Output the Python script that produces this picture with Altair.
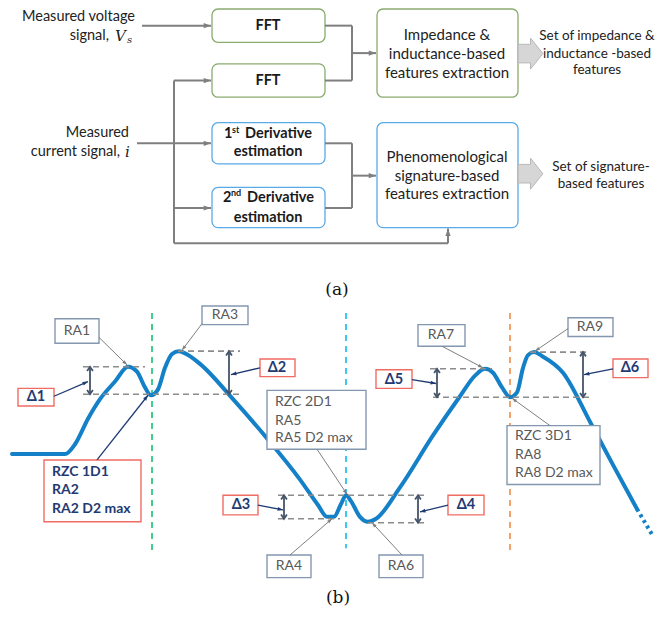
import math
import altair as alt
import pandas as pd

# ---------------- (a) flowchart data ----------------
box_x1 = [212, 212, 212, 212, 377, 377]
box_x2 = [325, 325, 325, 325, 518, 518]
box_y1 = [2, 58, 118, 184, 2, 118]
box_y2 = [36, 92, 160, 225, 92, 225]
box_group = ["fft", "fft", "deriv", "deriv", "fft", "deriv"]

seg_x1 = [174, 174, 325, 325, 352, 325, 325, 352]
seg_y1 = [75, 241, 19, 75, 19, 139, 205, 139]
seg_x2 = [174, 448, 352, 352, 352, 352, 352, 352]
seg_y2 = [241, 241, 19, 75, 75, 139, 205, 205]

arr_x1 = [142, 174, 137, 174, 352, 352, 448]
arr_y1 = [19, 75, 139, 205, 47, 172, 241]
arr_x2 = [211, 211, 211, 211, 376, 376, 448]
arr_y2 = [19, 75, 139, 205, 47, 172, 226]

big_x = [530.5, 530.5]
big_y = [47.5, 170]

in_text = ["Measured voltage", "signal,", "Measured", "current signal,"]
in_x = [135, 109, 129, 120]
in_y = [10, 30, 128, 148]
math_text = ["V", "i"]
math_x = [115, 125]
math_y = [30, 148]
sub_text = ["s"]
sub_x = [127]
sub_y = [34]

boxc_text = ["FFT", "FFT", "estimation", "estimation"]
boxc_x = [268, 268, 268, 268]
boxc_y = [19, 75, 148, 215]
boxl_text = ["1", "Derivative", "2", "Derivative"]
boxl_x = [224, 245, 223, 247]
boxl_y = [130, 130, 195, 195]
sup_text = ["st", "nd"]
sup_x = [232, 231]
sup_y = [125, 190]

ext_text = ["Impedance &", "inductance-based", "features extraction",
            "Phenomenological", "signature-based", "features extraction"]
ext_x = [447, 447, 447, 447, 447, 447]
ext_y = [29, 48, 67, 153, 172, 191]

out_text = ["Set of impedance &", "inductance -based", "features",
            "Set of signature-", "based features"]
out_x = [597, 597, 597, 601, 601]
out_y = [30, 48, 64, 163, 181]

cap_text = ["(a)", "(b)"]
cap_x = [337, 338]
cap_y = [289, 603]

# ---------------- (b) signature data ----------------
curve_x = [12, 65, 75, 88, 100, 115, 128, 137, 145, 151, 158, 165, 172, 179, 188,
           200, 233, 267, 300, 318, 327, 334, 341, 346, 351, 360, 368, 376, 400,
           433, 460, 475, 485, 493, 502, 510, 517, 523, 528, 534, 542, 563, 590,
           613, 637]
curve_y = [456, 456, 446, 420, 400, 382, 367, 372, 388, 396, 390, 368, 354, 351, 355,
           364, 400, 440, 482, 508, 520, 520, 507, 498, 504, 520, 525, 522, 490,
           437, 397, 376, 369, 373, 388, 398, 393, 368, 355, 352, 356, 373, 423,
           467, 512]
tail_x = [637, 652]
tail_y = [512, 538]

hdash_x1 = [83, 83, 178, 278, 278, 368, 430, 433, 530]
hdash_x2 = [145, 243, 240, 427, 340, 428, 492, 590, 590]
hdash_y = [367, 395, 351, 498, 522, 526, 369, 398, 352]

vdash_x = [152, 346, 510]
vdash_y1 = [312, 312, 312]
vdash_y2 = [555, 552, 555]
vdash_c = ["g", "c", "o"]

dbl_x = [90, 229, 284, 418, 437, 583]
dbl_y1 = [367, 351, 498, 498, 369, 352]
dbl_y2 = [395, 395, 522, 526, 398, 398]

lab_x1 = [55, 202, 418, 568, 267, 379, 267, 507, 44, 18, 260, 223, 448, 376, 613]
lab_x2 = [99, 248, 465, 613, 311, 423, 366, 600, 141, 54, 295, 258, 484, 412, 648]
lab_y1 = [318, 305, 324, 317, 559, 559, 391, 427, 462, 389, 359, 498, 498, 370, 359]
lab_y2 = [343, 324, 346, 336, 582, 582, 451, 487, 525, 407, 377, 518, 518, 389, 378]
lab_kind = ["grey"] * 8 + ["red"] * 7

ra_text = ["RA1", "RA3", "RA7", "RA9", "RA4", "RA6"]
ra_x = [77, 225, 441, 590, 289, 401]
ra_y = [330, 314, 335, 326, 570, 570]

multi_text = ["RZC 2D1", "RA5", "RA5 D2 max", "RZC 3D1", "RA8", "RA8 D2 max"]
multi_x = [275, 275, 275, 515, 515, 515]
multi_y = [403, 422, 440, 438, 457, 475]

bold_text = ["RZC 1D1", "RA2", "RA2 D2 max"]
bold_x = [52, 52, 52]
bold_y = [474, 493, 512]

delta_text = ["Δ1", "Δ2", "Δ3", "Δ4", "Δ5", "Δ6"]
delta_x = [36, 277, 241, 466, 394, 630]
delta_y = [398, 368, 508, 508, 380, 368]

gp_x1 = [99, 202, 442, 568, 290, 402, 317, 550]
gp_y1 = [337, 323, 346, 328, 559, 559, 451, 427]
gp_x2 = [127, 182, 483, 535, 332, 372, 347, 512]
gp_y2 = [365, 350, 368, 351, 522, 526, 497, 399]

np_x1 = [97, 54, 260, 258, 448, 412, 613]
np_y1 = [462, 397, 368, 508, 508, 380, 369]
np_x2 = [148, 88, 231, 283, 420, 436, 584]
np_y2 = [396, 382, 375, 513, 515, 384, 375]

# ---------------- styling ----------------
W, H = 656, 600
XD = [8, 664]
YD = [1, 613]
SX = W / (XD[1] - XD[0])
SY = H / (YD[1] - YD[0])
XS = alt.Scale(domain=XD, nice=False, zero=False)
YS = alt.Scale(domain=YD, nice=False, zero=False, reverse=True)
FONT = "Lato, 'Open Sans', sans-serif"
GREEN_BOX = "#8aab6e"
BLUE_BOX = "#5aaae6"
LINE_GREY = "#7f7f7f"
CURVE = "#1380c8"
DASH_GREY = "#8c8c8c"
DOUBLE = "#44546a"
LABEL_BORDER = "#8497b0"
LABEL_TEXT = "#595959"
RED = "#f26b63"
NAVY = "#1f3b73"
VCOL = {"g": "#3ecf8e", "c": "#3cc8f2", "o": "#f2a36c"}
HEAD = "M0,0 L0.5,1.4 L-0.5,1.4 Z"
CHEVRON = "M-0.75,1.1 L0,0 L0.75,1.1"
BIG = "M-0.8,-0.6 L0,-0.6 L0,-1 L0.8,0 L0,1 L0,0.6 L-0.8,0.6 Z"


def ex(f="x"):
    return alt.X(f + ":Q", scale=XS, axis=None)


def ey(f="y"):
    return alt.Y(f + ":Q", scale=YS, axis=None)


def text_layer(texts, xs, ys, **kw):
    df = pd.DataFrame({"t": texts, "x": xs, "y": ys})
    base = dict(baseline="middle", font=FONT)
    base.update(kw)
    return alt.Chart(df).mark_text(**base).encode(x=ex(), y=ey(), text="t:N")


def rules(x1, y1, x2, y2, **kw):
    df = pd.DataFrame({"x": x1, "y": y1, "x2": x2, "y2": y2})
    return alt.Chart(df).mark_rule(**kw).encode(
        x=ex(), y=ey(), x2=alt.X2("x2:Q"), y2=alt.Y2("y2:Q"))


def rects(x1, x2, y1, y2, keep, **kw):
    df = pd.DataFrame({"x": x1, "x2": x2, "y": y1, "y2": y2, "k": keep})
    df = df[df["k"]]
    return alt.Chart(df).mark_rect(fill="white", **kw).encode(
        x=ex(), x2=alt.X2("x2:Q"), y=ey(), y2=alt.Y2("y2:Q"))


def heads(x1, y1, x2, y2, size, color):
    ang = []
    for a, b, c, d in zip(x1, y1, x2, y2):
        dx = (c - a) * SX
        dy = (d - b) * SY
        ang.append(math.degrees(math.atan2(dx, -dy)) % 360)
    df = pd.DataFrame({"x": x2, "y": y2, "a": ang})
    return alt.Chart(df).mark_point(shape=HEAD, filled=True, size=size, color=color,
                                    opacity=1, strokeWidth=0).encode(
        x=ex(), y=ey(), angle=alt.Angle("a:Q", scale=None))


layers = []

# ---- (a) ----
for grp, col in [("fft", GREEN_BOX), ("deriv", BLUE_BOX)]:
    layers.append(rects(box_x1, box_x2, box_y1, box_y2, [g == grp for g in box_group],
                        cornerRadius=6, stroke=col, strokeWidth=1.3))
layers.append(rules(seg_x1, seg_y1, seg_x2, seg_y2, color=LINE_GREY, strokeWidth=2))
layers.append(rules(arr_x1, arr_y1, arr_x2, arr_y2, color=LINE_GREY, strokeWidth=2))
layers.append(heads(arr_x1, arr_y1, arr_x2, arr_y2, 110, LINE_GREY))

bigdf = pd.DataFrame({"x": big_x, "y": big_y})
layers.append(alt.Chart(bigdf).mark_point(shape=BIG, filled=True, size=961, fill="#d6d6d6",
                                          stroke="#b8b8b8", strokeWidth=1, opacity=1).encode(
    x=ex(), y=ey()))

layers.append(text_layer(in_text, in_x, in_y, align="right", fontSize=14.5, color="#222222"))
layers.append(text_layer(math_text, math_x, math_y, align="left", fontSize=15, fontStyle="italic",
                         font="'DejaVu Serif', serif", color="#222222"))
layers.append(text_layer(sub_text, sub_x, sub_y, align="left", fontSize=10, fontStyle="italic",
                         font="'DejaVu Serif', serif", color="#222222"))
layers.append(text_layer(boxc_text, boxc_x, boxc_y, align="center", fontSize=14.5,
                         fontWeight="bold", color="#1a1a1a"))
layers.append(text_layer(boxl_text, boxl_x, boxl_y, align="left", fontSize=14.5,
                         fontWeight="bold", color="#1a1a1a"))
layers.append(text_layer(sup_text, sup_x, sup_y, align="left", fontSize=9,
                         fontWeight="bold", color="#1a1a1a"))
layers.append(text_layer(ext_text, ext_x, ext_y, align="center", fontSize=15, color="#222222"))
layers.append(text_layer(out_text, out_x, out_y, align="center", fontSize=13.5, color="#222222"))
layers.append(text_layer(cap_text, cap_x, cap_y, align="center", fontSize=17,
                         font="'DejaVu Serif', serif", color="#111111"))

# ---- (b) ----
for key, col in VCOL.items():
    sel = [i for i, c in enumerate(vdash_c) if c == key]
    layers.append(rules([vdash_x[i] for i in sel], [vdash_y1[i] for i in sel],
                        [vdash_x[i] for i in sel], [vdash_y2[i] for i in sel],
                        color=col, strokeWidth=2, strokeDash=[6, 5]))

cdf = pd.DataFrame({"x": curve_x, "y": curve_y})
layers.append(alt.Chart(cdf).mark_line(interpolate="monotone", color=CURVE, strokeWidth=4,
                                       strokeCap="round").encode(x=ex(), y=ey()))
tdf = pd.DataFrame({"x": tail_x, "y": tail_y})
layers.append(alt.Chart(tdf).mark_line(color=CURVE, strokeWidth=4, strokeDash=[3, 3.5]).encode(
    x=ex(), y=ey()))

layers.append(rules(hdash_x1, hdash_y, hdash_x2, hdash_y, color=DASH_GREY, strokeWidth=1.6,
                    strokeDash=[6, 4]))

layers.append(rules(dbl_x, dbl_y1, dbl_x, dbl_y2, color=DOUBLE, strokeWidth=1.8))
ddf = pd.DataFrame({"x": dbl_x + dbl_x, "y": dbl_y1 + dbl_y2,
                    "a": [0] * len(dbl_x) + [180] * len(dbl_x)})
layers.append(alt.Chart(ddf).mark_point(shape=CHEVRON, filled=False, size=60, color=DOUBLE,
                                        strokeWidth=1.8, opacity=1).encode(
    x=ex(), y=ey(), angle=alt.Angle("a:Q", scale=None)))

for kind, col in [("grey", LABEL_BORDER), ("red", RED)]:
    layers.append(rects(lab_x1, lab_x2, lab_y1, lab_y2, [k == kind for k in lab_kind],
                        stroke=col, strokeWidth=1.4))

layers.append(rules(gp_x1, gp_y1, gp_x2, gp_y2, color=LINE_GREY, strokeWidth=1))
layers.append(heads(gp_x1, gp_y1, gp_x2, gp_y2, 50, LINE_GREY))
layers.append(rules(np_x1, np_y1, np_x2, np_y2, color=NAVY, strokeWidth=1.3))
layers.append(heads(np_x1, np_y1, np_x2, np_y2, 60, NAVY))

layers.append(text_layer(ra_text, ra_x, ra_y, align="center", fontSize=14, color=LABEL_TEXT))
layers.append(text_layer(multi_text, multi_x, multi_y, align="left", fontSize=14, color=LABEL_TEXT))
layers.append(text_layer(bold_text, bold_x, bold_y, align="left", fontSize=14,
                         fontWeight="bold", color=NAVY))
layers.append(text_layer(delta_text, delta_x, delta_y, align="center", fontSize=14.5,
                         fontWeight="bold", color=NAVY))

chart = alt.layer(*layers).properties(
    width=W, height=H, padding=0, autosize=alt.AutoSizeParams(type="none"),
    background="white"
).configure_view(stroke=None)

chart.save("out.html", embed_options={"renderer": "svg", "actions": False})
